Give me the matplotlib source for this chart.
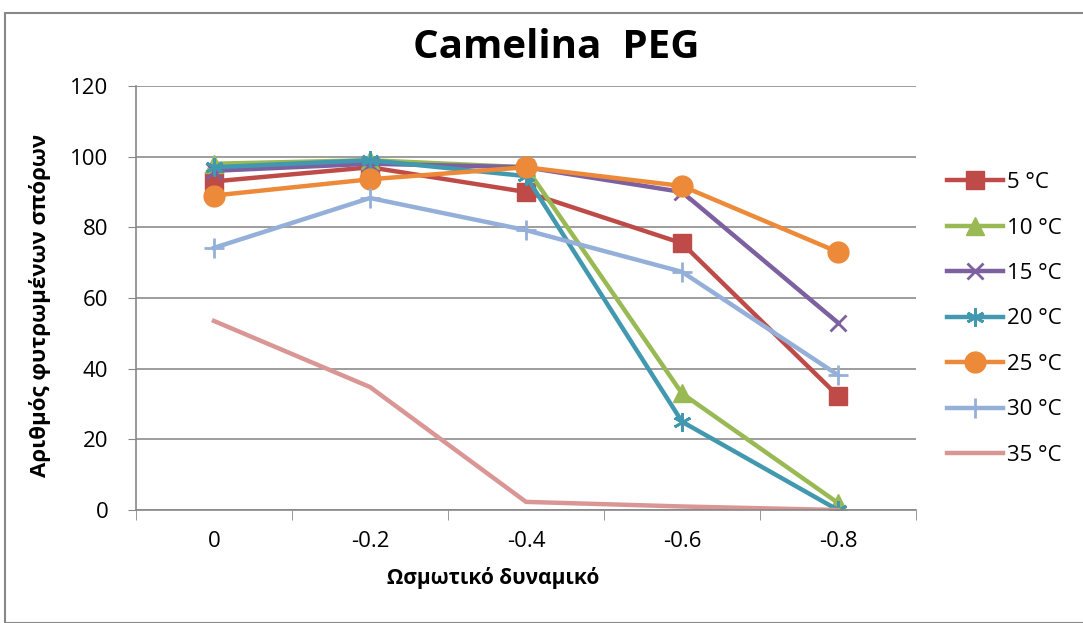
import matplotlib.pyplot as plt
import numpy as np

plt.rcParams['font.family'] = ['Open Sans', 'DejaVu Sans']

categories = ['0', '-0.2', '-0.4', '-0.6', '-0.8']
labels = ['5 °C', '10 °C', '15 °C', '20 °C', '25 °C', '30 °C', '35 °C']
t5 = [93, 97, 90, 75.5, 32.3]
t10 = [98, 99, 97, 33, 2]
t15 = [96, 98, 97, 90, 53]
t20 = [97, 99, 94.5, 25, 0]
t25 = [89, 93.6, 97, 91.7, 73]
t30 = [74.2, 88.3, 79.2, 67.4, 38.2]
t35 = [53.5, 34.8, 2.3, 1, 0]

series = [t5, t10, t15, t20, t25, t30, t35]
colors = ['#BE4B48', '#98B954', '#7D60A0', '#4198AF', '#EC8A3A', '#95B0D8', '#D99694']
markers = ['s', '^', 'x', (6, 2, 0), 'o', '+', None]
msizes = [13, 13, 12, 13, 15, 14, 0]

W, H = 1083, 623
fig = plt.figure(figsize=(W / 100, H / 100), dpi=100)
ax = fig.add_axes([136 / W, 1 - 510 / H, 780 / W, 424 / H])

x = np.arange(len(categories))
for y, c, m, ms, lab in zip(series, colors, markers, msizes, labels):
    ax.plot(x, y, color=c, lw=3.2, marker=m, markersize=ms,
            markeredgewidth=2 if m in ('x', '+') or isinstance(m, tuple) else 1,
            markeredgecolor=c, markerfacecolor=c, label=lab, solid_joinstyle='miter')

ax.set_xlim(-0.5, 4.5)
ax.set_ylim(0, 120)
ax.set_yticks(range(0, 121, 20))
ax.set_xticks(x)
ax.set_xticklabels(categories)
ax.set_xticks(np.arange(-0.5, 4.6, 1), minor=True)
ax.tick_params(axis='x', which='major', length=0, labelsize=16, pad=15)
ax.tick_params(axis='x', which='minor', length=7, color='#888888', direction='out')
ax.tick_params(axis='y', length=6, color='#888888', labelsize=16, pad=14)
ax.yaxis.grid(True, color='#8c8c8c', lw=1.2)
ax.set_axisbelow(True)
for s in ['top', 'right']:
    ax.spines[s].set_visible(False)
for s in ['left', 'bottom']:
    ax.spines[s].set_color('#888888')
    ax.spines[s].set_linewidth(1.2)

fig.text(556 / W, 1 - 48 / H, 'Camelina  PEG', fontsize=29, fontweight='bold',
         ha='center', va='center')
fig.text(493 / W, 1 - 578 / H, 'Ωσμωτικό δυναμικό', fontsize=15, fontweight='bold',
         ha='center', va='center')
fig.text(40 / W, 1 - 305 / H, 'Αριθμός φυτρωμένων σπόρων', fontsize=16, fontweight='bold',
         ha='center', va='center', rotation=90)

leg = ax.legend(loc='center left', bbox_to_anchor=((947 - 136) / 780, (510 - 319) / 424),
                frameon=False, fontsize=16, handlelength=2.5, labelspacing=1.1,
                handletextpad=0.2, borderaxespad=0, borderpad=0)

fig.patches.append(plt.Rectangle((5 / W, 0), 1, 1 - 13 / H, transform=fig.transFigure,
                                 fill=False, edgecolor='#888888', lw=1.5))

fig.savefig('out.png', dpi=100)
